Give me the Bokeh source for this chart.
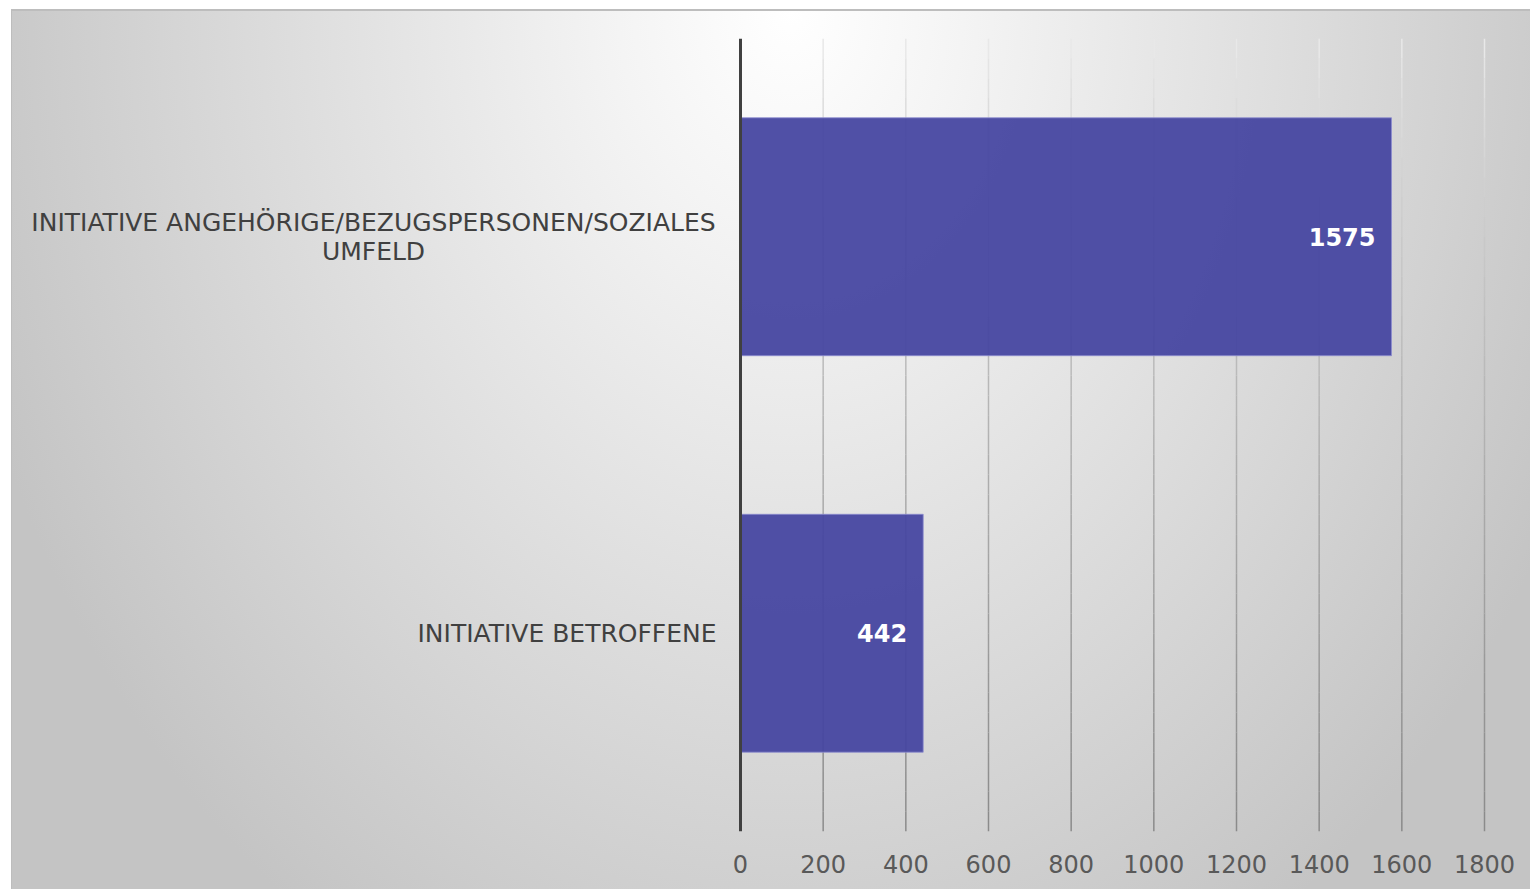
from bokeh.plotting import figure
from bokeh.models import FactorRange, Range1d, FixedTicker, Span
from bokeh.core.properties import value
from bokeh.embed import file_html
from bokeh.resources import INLINE

# ---- data ----
categories = ["INITIATIVE BETROFFENE",
              "INITIATIVE ANGEHÖRIGE/BEZUGSPERSONEN/SOZIALES\nUMFELD"]
values = [442, 1575]
x_ticks = [0, 200, 400, 600, 800, 1000, 1200, 1400, 1600, 1800]

FONT = "DejaVu Sans"
PX_PER_UNIT = 744 / 1800.0   # 0..1800 spans 744 px
AXIS_PX = 729                # pixel distance of value 0 from figure's left edge
FIG_W, FIG_H = 1519, 880

p = figure(width=FIG_W, height=FIG_H, output_backend="svg", toolbar_location=None,
           y_range=FactorRange(factors=categories),
           x_range=Range1d(-AXIS_PX / PX_PER_UNIT, (FIG_W - AXIS_PX) / PX_PER_UNIT),
           min_border_left=0, min_border_right=0, min_border_top=29,
           min_border_bottom=58)
p.styles = {
    "margin-left": "11px",
    "margin-top": "9px",
    "background": "radial-gradient(ellipse 860px 1100px at 780px 0px, #ffffff 0%, #f4f4f4 20%, #dcdcdc 60%, #c4c4c4 100%)",
    "box-shadow": "inset 1px 2px 0 #bdbdbd",
}
p.background_fill_color = None
p.border_fill_color = None
p.outline_line_color = None
p.xgrid.grid_line_color = None
p.ygrid.grid_line_color = None

# gradient vertical gridlines (light at top, darker at bottom)
n_steps = 40
ncat = len(categories)
gx0, gx1, gy0, gy1, gcol = [], [], [], [], []
for t in x_ticks[1:]:
    for k in range(n_steps):
        ya = ncat * k / n_steps
        yb = ncat * (k + 1) / n_steps
        frac = 1 - (ya + yb) / (2 * ncat)  # 0 top, 1 bottom
        f = frac ** 0.75
        c = int(round(236 - f * (236 - 138)))
        gx0.append(t); gx1.append(t); gy0.append(ya); gy1.append(yb)
        gcol.append("#%02x%02x%02x" % (c, c, c))
p.segment(x0=gx0, y0=gy0, x1=gx1, y1=gy1, line_color=gcol, line_width=1.5)

# bars
p.hbar(y=categories, left=0, right=values, height=0.6,
       fill_color="#4545a0", fill_alpha=0.94,
       line_color="#8c8cd0", line_width=1, line_alpha=0.8)

# value axis line (x = 0)
p.add_layout(Span(location=0, dimension="height", line_color="#404040", line_width=3))

# value labels
p.text(x=values, y=categories, text=[str(v) for v in values],
       x_offset=-16, text_align="right", text_baseline="middle",
       text_color="white", text_font=value(FONT), text_font_style="bold",
       text_font_size="24px")

# category labels, left of the axis: single-line labels right-aligned,
# multi-line labels as a right-aligned block with centered lines
sx, sy, st = [], [], []
mx, my, mt, myo = [], [], [], []
for cat in categories:
    lines = cat.split("\n")
    n = len(lines)
    if n == 1:
        sx.append(0); sy.append(cat); st.append(cat)
    else:
        for i, ln in enumerate(lines):
            mx.append(0); my.append(cat); mt.append(ln)
            myo.append((i - (n - 1) / 2) * 29)
p.text(x=sx, y=sy, text=st, x_offset=-24,
       text_align="right", text_baseline="middle",
       text_font=value(FONT), text_font_size="25px", text_color="#404040")
p.text(x=mx, y=my, text=mt, x_offset=-367, y_offset=myo,
       text_align="center", text_baseline="middle",
       text_font=value(FONT), text_font_size="25px", text_color="#404040")

# axes
p.xaxis.ticker = FixedTicker(ticks=x_ticks)
p.xaxis.axis_line_color = None
p.xaxis.major_tick_line_color = None
p.xaxis.minor_tick_line_color = None
p.xaxis.major_label_text_font = FONT
p.xaxis.major_label_text_font_size = "24px"
p.xaxis.major_label_text_color = "#595959"
p.xaxis.major_label_standoff = 17
p.yaxis.visible = False

open("out.html", "w").write(file_html(p, INLINE))
